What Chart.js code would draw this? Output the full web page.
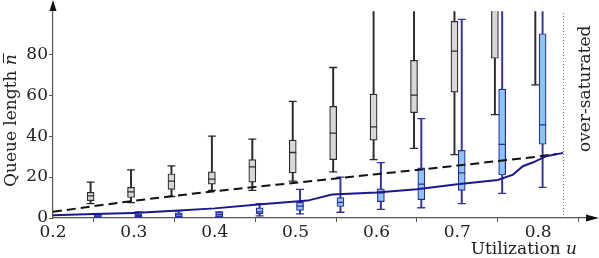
<!DOCTYPE html>
<html>
<head>
<meta charset="utf-8">
<script src="https://cdn.jsdelivr.net/npm/chart.js@4.4.1/dist/chart.umd.min.js"></script>
<style>
  html, body { margin: 0; padding: 0; background: #fff; }
  #wrap { width: 599px; height: 258px; }
</style>
</head>
<body>
<div id="wrap"><canvas id="queueChart"></canvas></div>
<script>
// Utilization values where the box plots sit
const utilization = [0.25, 0.3, 0.35, 0.4, 0.45, 0.5, 0.55, 0.6, 0.65, 0.7, 0.75, 0.8];

// Gray boxes (min, q1, median, q3, max)
const grayMin = [7, 7.5, 10.5, 13.5, 13.5, 18, 22.5, 28.5, 34, 31, 50.5, 65];
const grayQ1  = [8.5, 10, 14, 16.5, 17.5, 22, 28.5, 38, 51.5, 61.5, 78, 110];
const grayMed = [10.8, 12.8, 18, 19, 25, 32, 41.5, 44.5, 60, 81.5, 112, 140];
const grayQ3  = [12.5, 15, 21.5, 22.5, 28.5, 38, 54.5, 60.5, 77, 96, 140, 170];
const grayMax = [17.5, 23.5, 25.5, 40, 38.5, 57, 73.5, 115, 130, 150, 200, 250];

// Blue boxes (min, q1, median, q3, max)
const blueMin = [0.2, 0.3, 0.3, 0.5, 1, 2, 2.8, 4.2, 5, 7, 12, 15];
const blueQ1  = [0.4, 0.5, 0.5, 0.7, 2, 3.7, 5.6, 8, 9, 13.5, 21, 36];
const blueMed = [1, 1.2, 1.5, 1.6, 3, 5.8, 7.6, 12.3, 16.5, 22, 36, 45.5];
const blueQ3  = [1.8, 2, 2.5, 2.8, 5, 7.6, 10, 14.2, 24.5, 33, 63, 90];
const blueMax = [2, 3, 3.5, 3, 7, 14, 20, 27, 48.5, 97, 130, 150];

// Dashed reference curve
const dashU = [0.2, 0.25, 0.3, 0.35, 0.4, 0.45, 0.5, 0.55, 0.6, 0.65, 0.7, 0.75, 0.8, 0.823];
const dashQ = [3, 5.8, 8.4, 10.8, 13.1, 15.2, 17.2, 19.3, 21.4, 23.5, 25.6, 27.8, 30, 31.3];

// Mean queue length (solid blue line)
const meanU = [0.2, 0.25, 0.3, 0.35, 0.4, 0.45, 0.5, 0.515, 0.545, 0.6, 0.65, 0.7, 0.75, 0.769, 0.781, 0.794, 0.81, 0.831];
const meanQ = [1.4, 1.9, 2.5, 3.5, 4.7, 6.5, 8, 8.5, 11.5, 12.5, 14, 16.5, 18.6, 21.2, 25.3, 27.2, 30.2, 31.8];

// Saturation limit and axis ticks
const saturationU = 0.8313;
const xTicks = [0.2, 0.3, 0.4, 0.5, 0.6, 0.7, 0.8];
const yTicks = [0, 20, 40, 60, 80];

const FONT = 'DejaVu Serif';
Chart.defaults.font.family = FONT;
Chart.defaults.font.size = 17;
Chart.defaults.color = '#222';

const grayShift = -0.0035;
const blueShift = 0.0055;

function pts(xs, ys, shift) {
    return xs.map((x, i) => ({ x: x + shift, y: ys[i] }));
}
function ranges(xs, lo, hi, shift) {
    return xs.map((x, i) => ({ x: x + shift, y: [lo[i], hi[i]] }));
}

function boxSets(shift, mins, q1s, meds, q3s, maxs, line, fill, whisker) {
    return [
        { type: 'bar', data: ranges(utilization, mins, maxs, shift), backgroundColor: whisker,
          barThickness: 1.3, grouped: false, borderWidth: 0, order: 6 },
        { type: 'bar', data: ranges(utilization, q1s, q3s, shift), backgroundColor: fill,
          borderColor: line, borderWidth: 1.2, borderSkipped: false, barThickness: 7, grouped: false, order: 5 },
        { type: 'scatter', data: pts(utilization, meds, shift), pointStyle: 'line', pointRadius: 3.5,
          borderColor: line, borderWidth: 1.3, order: 4 },
        { type: 'scatter', data: pts(utilization, mins, shift), pointStyle: 'line', pointRadius: 4,
          borderColor: whisker, borderWidth: 1.3, order: 4 },
        { type: 'scatter', data: pts(utilization, maxs, shift), pointStyle: 'line', pointRadius: 4,
          borderColor: whisker, borderWidth: 1.3, order: 4 }
    ];
}

// Arrowheads, axis titles and the side note
const decorations = {
    id: 'decorations',
    afterDraw(chart) {
        const { ctx, chartArea } = chart;
        const left = chartArea.left, bottom = chartArea.bottom;
        ctx.save();
        ctx.fillStyle = '#111';
        // y axis arrow
        ctx.beginPath();
        ctx.moveTo(left, 0);
        ctx.lineTo(left - 3.5, 11);
        ctx.lineTo(left + 3.5, 11);
        ctx.closePath();
        ctx.fill();
        // x axis arrow
        ctx.beginPath();
        ctx.moveTo(599, bottom);
        ctx.lineTo(586, bottom - 3.5);
        ctx.lineTo(586, bottom + 3.5);
        ctx.closePath();
        ctx.fill();

        ctx.fillStyle = '#222';
        ctx.textBaseline = 'alphabetic';
        ctx.textAlign = 'left';

        // x axis title
        ctx.font = '17px "' + FONT + '"';
        const xt = 'Utilization ';
        const xw = ctx.measureText(xt).width;
        ctx.font = 'italic 17px "' + FONT + '"';
        const uw = ctx.measureText('u').width;
        let x0 = 577 - xw - uw;
        ctx.font = '17px "' + FONT + '"';
        ctx.fillText(xt, x0, 254);
        ctx.font = 'italic 17px "' + FONT + '"';
        ctx.fillText('u', x0 + xw, 254);

        // y axis title
        ctx.save();
        ctx.translate(16, 187);
        ctx.rotate(-Math.PI / 2);
        ctx.font = '17px "' + FONT + '"';
        const yt = 'Queue length ';
        ctx.fillText(yt, 0, 0);
        const yw = ctx.measureText(yt).width;
        ctx.font = 'italic 17px "' + FONT + '"';
        ctx.fillText('n', yw, 0);
        const nw = ctx.measureText('n').width;
        ctx.lineWidth = 1;
        ctx.strokeStyle = '#222';
        ctx.beginPath();
        ctx.moveTo(yw + 2, -12.5);
        ctx.lineTo(yw + nw + 1, -12.5);
        ctx.stroke();
        ctx.restore();

        // over-saturated note
        ctx.save();
        ctx.translate(590, 152);
        ctx.rotate(-Math.PI / 2);
        ctx.font = '17px "' + FONT + '"';
        ctx.fillText('over-saturated', 0, 0);
        ctx.restore();

        ctx.restore();
    }
};

const datasets = [
    { type: 'line', data: [{ x: saturationU, y: 0 }, { x: saturationU, y: 101 }],
      borderColor: '#777', borderWidth: 1, borderDash: [1, 2], pointRadius: 0, order: 7 },
    ...boxSets(grayShift, grayMin, grayQ1, grayMed, grayQ3, grayMax, '#2b2b2b', '#d8d8d8', '#2b2b2b'),
    ...boxSets(blueShift, blueMin, blueQ1, blueMed, blueQ3, blueMax, '#2a2a9c', '#8cc6f6', '#3333a6'),
    { type: 'line', data: pts(dashU, dashQ, 0), borderColor: '#111', borderWidth: 2,
      borderDash: [9, 5], pointRadius: 0, tension: 0, order: 1 },
    { type: 'line', data: pts(meanU, meanQ, 0), borderColor: '#1a1a8a', borderWidth: 2,
      pointRadius: 0, tension: 0, order: 0 }
];

new Chart(document.getElementById('queueChart'), {
    type: 'bar',
    data: { datasets: datasets },
    options: {
        responsive: true,
        maintainAspectRatio: false,
        animation: false,
        events: [],
        layout: { padding: { top: 2, right: 1, left: 0, bottom: 0 } },
        plugins: { legend: { display: false }, tooltip: { enabled: false } },
        scales: {
            x: {
                type: 'linear',
                offset: false,
                min: 0.2,
                max: 0.8687,
                afterBuildTicks: s => { s.ticks = xTicks.map(v => ({ value: v })); },
                afterFit: s => { s.height = 40; },
                grid: { drawOnChartArea: false, tickLength: 4, color: '#555', lineWidth: 1 },
                border: { color: '#555', width: 1.2 },
                ticks: { padding: 0, maxRotation: 0, autoSkip: false, callback: v => v.toFixed(1) }
            },
            y: {
                type: 'linear',
                min: 0,
                max: 101,
                afterBuildTicks: s => { s.ticks = yTicks.map(v => ({ value: v })); },
                afterFit: s => { s.width = 53; },
                grid: { drawOnChartArea: false, tickLength: 4, color: '#555', lineWidth: 1 },
                border: { color: '#555', width: 1.2 },
                ticks: { padding: 1 }
            }
        }
    },
    plugins: [decorations]
});
</script>
</body>
</html>
